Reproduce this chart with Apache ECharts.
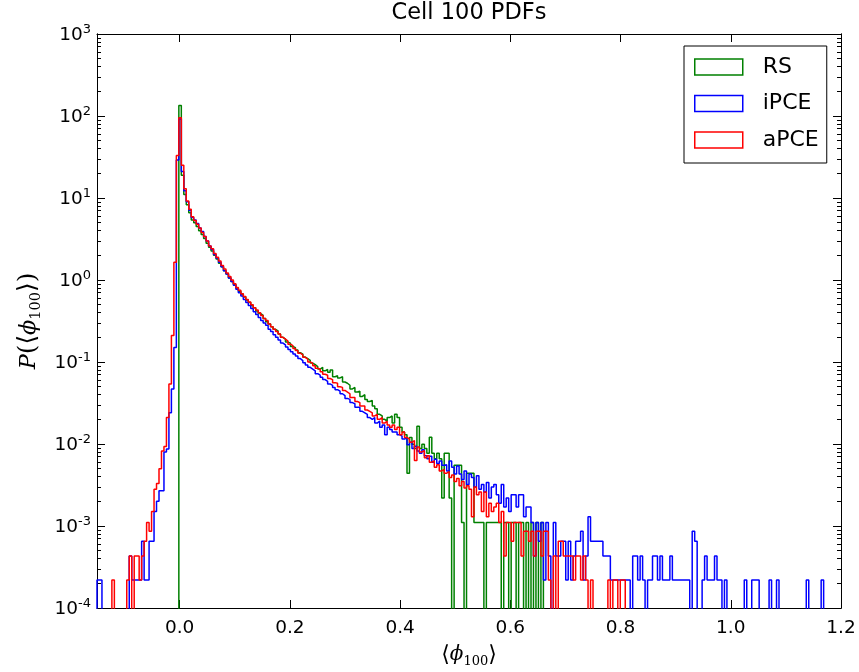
<!DOCTYPE html>
<html>
<head>
<meta charset="utf-8">
<script src="https://cdn.jsdelivr.net/npm/echarts@6/dist/echarts.min.js"></script>
<style>
  html, body { margin: 0; padding: 0; background: #fff; }
  #chart { width: 859px; height: 672px; }
</style>
</head>
<body>
<div id="chart"></div>
<script>
// Histogram bins shared by the three estimators: left edge of bin k is binStart + k * binWidth
const binStart = -0.15;
const binWidth = 0.0045;

// RS (random sampling) density, first value belongs to bin 33 (the bin holding 0)
const rsFirstBin = 33;
const rsDensity = [
  134, 19, 11, 8.3, 6.6, 5.4, 5.0,
  4.5, 4.0, 3.6, 3.2, 2.8, 2.5, 2.25, 2.0, 1.8, 1.6,
  1.45, 1.3, 1.18, 1.06, 0.96, 0.88, 0.80, 0.73, 0.67, 0.62,
  0.57, 0.53, 0.49, 0.46, 0.42, 0.39, 0.37, 0.34, 0.31, 0.29,
  0.27, 0.25, 0.24, 0.22, 0.20, 0.19, 0.175, 0.17, 0.155, 0.15,
  0.14, 0.13, 0.125, 0.115, 0.11, 0.105, 0.097, 0.093, 0.088, 0.082,
  0.086, 0.078, 0.081, 0.075, 0.080, 0.066, 0.068, 0.064, 0.066, 0.057,
  0.055, 0.052, 0.047, 0.049, 0.043, 0.044, 0.038, 0.040, 0.035, 0.033,
  0.034, 0.029, 0.027, 0.023, 0.022, 0.020, 0.019, 0.021, 0.022, 0.018,
  0.023, 0.021, 0.016, 0.014, 0.013, 0.0044, 0.012, 0.0099, 0.0088, 0.0165,
  0.0088, 0.0099, 0.0088, 0.0077, 0.0121, 0.0077, 0.0066, 0.0077, 0.0066, 0.0022,
  0.0077, 0.0077, 0.0022, 0, 0.0055, 0.0055, 0.0055, 0.0011, 0, 0.0044,
  0.0044, 0.0044, 0.0011, 0.0011, 0.0011, 0.0011, 0, 0.0011, 0.0011, 0.0011,
  0.0011, 0.0011, 0.0011, 0, 0.0011, 0.0011, 0, 0.0011, 0.0011, 0,
  0.0011, 0.0011, 0, 0.0011, 0, 0.0011, 0, 0.0011, 0, 0.0011
];

// iPCE density, first value belongs to bin 0
const ipceFirstBin = 0;
const ipceDensity = [
  2.2e-4, 2.2e-4, 0, 0, 0, 0, 0, 0, 0, 0,
  0, 0, 0, 4.3e-4, 2.2e-4, 2.2e-4, 2.2e-4, 2.2e-4, 6.5e-4, 2.2e-4,
  2.2e-4, 6.5e-4, 6.5e-4, 1.5e-3, 2.0e-3, 2.7e-3, 2.7e-3, 8.0e-3, 8.7e-3, 0.024,
  0.047, 0.15, 29, 92, 21, 12.3, 9.0, 7.1, 5.8, 5.4,
  4.9, 4.3, 3.9, 3.4, 3.0, 2.6, 2.35, 2.05, 1.85, 1.65,
  1.45, 1.3, 1.18, 1.06, 0.96, 0.86, 0.77, 0.70, 0.64, 0.58,
  0.53, 0.49, 0.45, 0.41, 0.38, 0.35, 0.32, 0.30, 0.28, 0.25,
  0.235, 0.215, 0.20, 0.185, 0.17, 0.162, 0.152, 0.142, 0.133, 0.125,
  0.118, 0.110, 0.104, 0.098, 0.092, 0.086, 0.082, 0.078, 0.072, 0.069,
  0.065, 0.061, 0.058, 0.054, 0.052, 0.049, 0.046, 0.044, 0.041, 0.039,
  0.036, 0.035, 0.032, 0.031, 0.028, 0.028, 0.025, 0.024, 0.023, 0.021,
  0.020, 0.021, 0.018, 0.019, 0.016, 0.017, 0.013, 0.016, 0.015, 0.014,
  0.014, 0.013, 0.0125, 0.0115, 0.012, 0.0098, 0.0105, 0.0088, 0.0094, 0.0082,
  0.0077, 0.0085, 0.0072, 0.0066, 0.0071, 0.0060, 0.0065, 0.0058, 0.0062, 0.0055,
  5.6e-3, 4.7e-3, 6.2e-3, 5.2e-3, 4.3e-3, 5.4e-3, 4.3e-3, 3.7e-3, 4.7e-3, 3.2e-3,
  4.3e-3, 3.9e-3, 3.0e-3, 4.1e-3, 2.8e-3, 3.2e-3, 2.6e-3, 3.4e-3, 2.2e-3, 3.0e-3,
  3.2e-3, 2.4e-3, 1.9e-3, 3.2e-3, 1.7e-3, 2.2e-3, 1.5e-3, 2.4e-3, 2.4e-3, 1.7e-3,
  2.4e-3, 2.4e-3, 1.3e-3, 1.7e-3, 1.7e-3, 1.1e-3, 4.3e-4, 1.1e-3, 6.5e-4, 1.1e-3,
  2.2e-4, 1.1e-3, 4.3e-4, 0, 1.1e-3, 4.3e-4, 4.3e-4, 6.5e-4, 6.5e-4, 2.2e-4,
  6.5e-4, 2.2e-4, 4.3e-4, 6.5e-4, 6.5e-4, 8.6e-4, 2.2e-4, 4.3e-4, 1.3e-3, 6.5e-4,
  6.5e-4, 6.5e-4, 6.5e-4, 6.5e-4, 4.3e-4, 4.3e-4, 4.3e-4, 2.2e-4, 2.2e-4, 2.2e-4,
  2.2e-4, 2.2e-4, 2.2e-4, 2.2e-4, 2.2e-4, 0, 4.3e-4, 4.3e-4, 2.2e-4, 4.3e-4,
  2.2e-4, 0, 2.2e-4, 2.2e-4, 4.3e-4, 4.3e-4, 2.2e-4, 4.3e-4, 2.2e-4, 2.2e-4,
  2.2e-4, 4.3e-4, 2.2e-4, 2.2e-4, 2.2e-4, 2.2e-4, 2.2e-4, 2.2e-4, 2.2e-4, 0,
  8.6e-4, 6.5e-4, 0, 0, 2.2e-4, 4.3e-4, 2.2e-4, 2.2e-4, 2.2e-4, 4.3e-4,
  2.2e-4, 2.2e-4, 0, 2.2e-4, 0, 0, 0, 0, 0, 0,
  0, 2.2e-4, 0, 0, 2.2e-4, 2.2e-4, 2.2e-4, 0, 0, 0,
  0, 2.2e-4, 0, 0, 2.2e-4, 0, 0, 0, 0, 0,
  0, 0, 0, 0, 0, 0, 2.2e-4, 0, 0, 0,
  0, 0, 2.2e-4
];

// aPCE density, first value belongs to bin 0
const apceFirstBin = 0;
const apceDensity = [
  0, 0, 0, 0, 0, 0, 2.2e-4, 0, 0, 0,
  0, 0, 2.2e-4, 4.3e-4, 0, 4.3e-4, 4.3e-4, 2.2e-4, 4.3e-4, 6.5e-4,
  1.1e-3, 8.6e-4, 1.5e-3, 2.8e-3, 3.3e-3, 5.0e-3, 8.2e-3, 9.3e-3, 0.021, 0.054,
  0.21, 1.65, 33, 95, 25, 13, 9.2, 7.3, 5.9, 5.3,
  4.8, 4.3, 3.8, 3.4, 3.0, 2.6, 2.4, 2.1, 1.9, 1.7,
  1.5, 1.36, 1.22, 1.1, 1.0, 0.90, 0.81, 0.75, 0.68, 0.63,
  0.58, 0.54, 0.50, 0.46, 0.43, 0.40, 0.37, 0.34, 0.32, 0.29,
  0.27, 0.25, 0.235, 0.22, 0.20, 0.19, 0.18, 0.165, 0.158, 0.146,
  0.138, 0.128, 0.122, 0.114, 0.108, 0.100, 0.096, 0.090, 0.084, 0.081,
  0.076, 0.071, 0.069, 0.063, 0.061, 0.056, 0.055, 0.050, 0.049, 0.045,
  0.043, 0.041, 0.037, 0.037, 0.033, 0.032, 0.029, 0.029, 0.026, 0.025,
  0.024, 0.022, 0.023, 0.020, 0.021, 0.018, 0.019, 0.017, 0.016, 0.017,
  0.015, 0.016, 0.013, 0.014, 0.012, 0.0115, 0.0105, 0.011, 0.0063, 0.0092,
  0.0080, 0.0083, 0.0068, 0.0072, 0.0060, 0.0062, 0.0052, 0.0056, 0.0047, 0.0049,
  0.0044, 0.0046, 0.0039, 0.0042, 0.0035, 0.0038, 0.0031, 0.0035, 0.0029, 0.0031,
  2.8e-3, 1.3e-3, 3.0e-3, 2.4e-3, 2.6e-3, 1.5e-3, 2.6e-3, 1.3e-3, 1.9e-3, 1.5e-3,
  1.7e-3, 1.9e-3, 1.1e-3, 1.5e-3, 4.3e-4, 1.1e-3, 1.1e-3, 6.5e-4, 1.1e-3, 1.1e-3,
  1.1e-3, 4.3e-4, 8.6e-4, 8.6e-4, 6.5e-4, 8.6e-4, 4.3e-4, 8.6e-4, 8.6e-4, 4.3e-4,
  8.6e-4, 8.6e-4, 2.2e-4, 0, 4.3e-4, 0, 6.5e-4, 6.5e-4, 4.3e-4, 4.3e-4,
  4.3e-4, 4.3e-4, 2.2e-4, 4.3e-4, 4.3e-4, 2.2e-4, 4.3e-4, 2.2e-4, 0, 2.2e-4,
  0, 0, 0, 0, 0, 0, 2.2e-4, 0, 2.2e-4, 2.2e-4,
  0, 2.2e-4, 2.2e-4
];

// Axis ticks
const xTicks = [0.0, 0.2, 0.4, 0.6, 0.8, 1.0, 1.2];
const yTicks = [1e-4, 1e-3, 1e-2, 1e-1, 1e0, 1e1, 1e2, 1e3];
// Minor log ticks: 2..9 times each decade below the top
const yMinorTicks = yTicks.slice(0, -1).flatMap(d => [2, 3, 4, 5, 6, 7, 8, 9].map(m => +(d * m).toPrecision(2)));

const seriesNames = ['RS', 'iPCE', 'aPCE'];
const seriesColors = ['#008000', '#0000ff', '#ff0000'];

// Empty bins sit far below the axis floor so the outline drops to the baseline
const belowAxis = 1e-7;

// Outline of a step histogram: rise at the first edge, run across each bin, drop after the last
function stepOutline(firstBin, density) {
  const pts = [];
  const edge = k => +(binStart + (firstBin + k) * binWidth).toFixed(6);
  pts.push([edge(0), belowAxis]);
  density.forEach((d, k) => pts.push([edge(k), d > 0 ? d : belowAxis]));
  const last = density[density.length - 1];
  pts.push([edge(density.length), last > 0 ? last : belowAxis]);
  pts.push([edge(density.length), belowAxis]);
  return pts;
}

const FONT = 'DejaVu Sans';
const SERIF = 'DejaVu Serif';

const tickLabelRich = {
  b: { fontSize: 18.5, fontFamily: FONT, color: '#000', lineHeight: 22, verticalAlign: 'bottom' },
  s: { fontSize: 13, fontFamily: FONT, color: '#000', lineHeight: 15, padding: [0, 0, 10, 0], verticalAlign: 'top' }
};

// Math-style axis titles: italic symbols, upright brackets, lowered subscript
function mathRich(scale) {
  return {
    i: { fontSize: 20 * scale, fontFamily: SERIF, fontStyle: 'italic', color: '#000', lineHeight: 26 * scale, verticalAlign: 'middle' },
    r: { fontSize: 22 * scale, fontFamily: SERIF, color: '#000', lineHeight: 26 * scale, verticalAlign: 'middle' },
    s: { fontSize: 13 * scale, fontFamily: SERIF, color: '#000', lineHeight: 14 * scale, padding: [10 * scale, 0, 0, 0], verticalAlign: 'bottom' }
  };
}

const frameLine = { show: true, onZero: false, lineStyle: { color: '#000', width: 1 } };

function logAxis(position, ticks, tickLength, withLabels) {
  return {
    type: 'log', logBase: 10, min: 1e-4, max: 1e3, interval: 1, position,
    axisLine: frameLine,
    axisTick: { show: true, inside: true, length: tickLength, customValues: ticks, lineStyle: { color: '#000', width: 1 } },
    minorTick: { show: false },
    axisLabel: withLabels ? {
      show: true, margin: 6, customValues: ticks,
      formatter: v => '{b|10}{s|' + Math.round(Math.log10(v)) + '}',
      rich: tickLabelRich,
      showMinLabel: true, showMaxLabel: true
    } : { show: false },
    splitLine: { show: false },
    minorSplitLine: { show: false }
  };
}

const chart = echarts.init(document.getElementById('chart'), null, { renderer: 'canvas' });

const yMain = logAxis('left', yTicks, 8, true);
yMain.name = '{i|P}{r|(⟨}{i|ϕ}{s|100}{r|⟩)}';
yMain.nameLocation = 'middle';
yMain.nameRotate = 90;
yMain.nameGap = 52;
yMain.nameTextStyle = { rich: mathRich(1.12) };

chart.setOption({
  animation: false,
  backgroundColor: '#fff',
  title: {
    text: 'Cell 100 PDFs',
    left: 469,
    top: 2,
    padding: 0,
    textAlign: 'center',
    textStyle: { fontSize: 22.5, fontWeight: 'normal', fontFamily: FONT, color: '#000' }
  },
  grid: { left: 97, right: 18, top: 34, bottom: 64, containLabel: false, outerBoundsMode: 'none' },
  legend: {
    orient: 'vertical',
    left: 684,
    top: 46,
    padding: [10, 8, 12, 10],
    itemWidth: 48,
    itemHeight: 16,
    itemGap: 14.5,
    backgroundColor: '#fff',
    borderColor: '#000',
    borderWidth: 1,
    borderRadius: 0,
    selectedMode: false,
    textStyle: { fontSize: 22, fontFamily: FONT, color: '#000', lineHeight: 18, padding: [0, 0, 0, 15] },
    data: seriesNames.map((n, i) => ({
      name: n,
      icon: 'rect',
      itemStyle: { color: 'rgba(0,0,0,0)', borderColor: seriesColors[i], borderWidth: 1.5 }
    }))
  },
  xAxis: [
    {
      type: 'value', min: -0.15, max: 1.2, position: 'bottom',
      axisLine: frameLine,
      axisTick: { show: true, inside: true, length: 8, customValues: xTicks, lineStyle: { color: '#000' } },
      axisLabel: {
        show: true, customValues: xTicks, margin: 11,
        formatter: v => v.toFixed(1),
        fontSize: 18.5, fontFamily: FONT, color: '#000',
        showMinLabel: true, showMaxLabel: true, hideOverlap: false
      },
      splitLine: { show: false },
      name: '{r|⟨}{i|ϕ}{s|100}{r|⟩}',
      nameLocation: 'middle',
      nameGap: 34,
      nameTextStyle: { rich: mathRich(1) }
    },
    {
      type: 'value', min: -0.15, max: 1.2, position: 'top',
      axisLine: frameLine,
      axisTick: { show: true, inside: true, length: 8, customValues: xTicks, lineStyle: { color: '#000' } },
      axisLabel: { show: false },
      splitLine: { show: false }
    }
  ],
  yAxis: [
    yMain,
    logAxis('right', yTicks, 8, false),
    logAxis('left', yMinorTicks, 4, false),
    logAxis('right', yMinorTicks, 4, false)
  ],
  series: [
    { first: rsFirstBin, dens: rsDensity },
    { first: ipceFirstBin, dens: ipceDensity },
    { first: apceFirstBin, dens: apceDensity }
  ].map((s, i) => ({
    name: seriesNames[i],
    type: 'line',
    step: 'end',
    xAxisIndex: 0,
    yAxisIndex: 0,
    showSymbol: false,
    symbol: 'none',
    clip: true,
    z: 2 + i,
    itemStyle: { color: seriesColors[i] },
    lineStyle: { color: seriesColors[i], width: 1.5 },
    data: stepOutline(s.first, s.dens)
  }))
});
</script>
</body>
</html>
